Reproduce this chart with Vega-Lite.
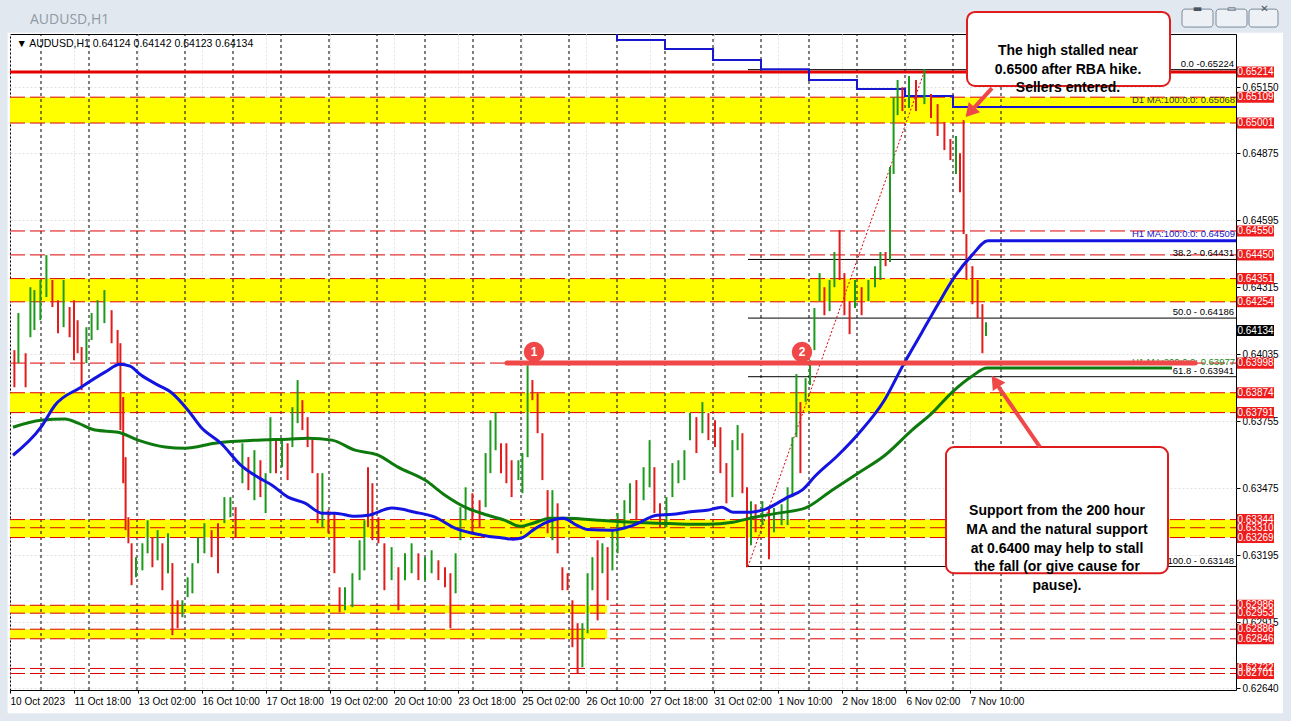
{
"$schema":"https://vega.github.io/schema/vega-lite/v6.json",
"width":1226,"height":656,
"autosize":{"type":"none"},
"padding":{"left":10,"top":34,"right":55,"bottom":31},
"background":"#ffffff",
"config":{"view":{"stroke":"#000000","strokeWidth":1,"fill":"#ffffff"},"axis":{"labelFont":"Liberation Sans","labelFontSize":10,"labelColor":"#000000","tickColor":"#000000"}},
"datasets":{
"candles":[
{"t":2.2,"h":0.64052,"l":0.63897,"dir":"d"},{"t":4.2,"h":0.64207,"l":0.63998,"dir":"u"},{"t":7.8,"h":0.64039,"l":0.63897,"dir":"d"},{"t":10.2,"h":0.64315,"l":0.64106,"dir":"u"},{"t":12.2,"h":0.64303,"l":0.64136,"dir":"u"},{"t":15.2,"h":0.64345,"l":0.64177,"dir":"u"},{"t":18.2,"h":0.64449,"l":0.64274,"dir":"u"},{"t":21.2,"h":0.64345,"l":0.64232,"dir":"d"},{"t":24,"h":0.64261,"l":0.64123,"dir":"d"},{"t":26.8,"h":0.64345,"l":0.64148,"dir":"u"},{"t":29.8,"h":0.64232,"l":0.64106,"dir":"d"},{"t":32,"h":0.64261,"l":0.6401,"dir":"d"},{"t":33.8,"h":0.64177,"l":0.64039,"dir":"d"},{"t":35.8,"h":0.64065,"l":0.63885,"dir":"d"},{"t":38.2,"h":0.64148,"l":0.63998,"dir":"u"},{"t":40.8,"h":0.64207,"l":0.64094,"dir":"u"},{"t":43.8,"h":0.64261,"l":0.64136,"dir":"u"},{"t":47.2,"h":0.64303,"l":0.64165,"dir":"u"},{"t":50.8,"h":0.64219,"l":0.64081,"dir":"d"},{"t":53.8,"h":0.64136,"l":0.63998,"dir":"d"},
{"t":55.2,"h":0.64081,"l":0.63718,"dir":"d"},{"t":56.6,"h":0.63856,"l":0.63496,"dir":"d"},{"t":57.8,"h":0.63605,"l":0.633,"dir":"d"},{"t":59.2,"h":0.63354,"l":0.63245,"dir":"d"},{"t":60.8,"h":0.63245,"l":0.6307,"dir":"d"},{"t":63,"h":0.63187,"l":0.63103,"dir":"u"},{"t":66.2,"h":0.63245,"l":0.63132,"dir":"u"},{"t":68.8,"h":0.63341,"l":0.63203,"dir":"u"},{"t":71.2,"h":0.6327,"l":0.63145,"dir":"d"},{"t":73.8,"h":0.633,"l":0.63174,"dir":"u"},{"t":76.2,"h":0.63245,"l":0.63049,"dir":"d"},{"t":79,"h":0.63287,"l":0.6312,"dir":"u"},{"t":81.2,"h":0.63162,"l":0.62861,"dir":"d"},{"t":83.8,"h":0.63007,"l":0.6289,"dir":"d"},{"t":86.2,"h":0.63007,"l":0.62936,"dir":"u"},{"t":88.8,"h":0.63103,"l":0.6302,"dir":"u"},{"t":91.2,"h":0.63162,"l":0.63036,"dir":"u"},{"t":94,"h":0.6327,"l":0.63162,"dir":"u"},{"t":97.2,"h":0.63329,"l":0.63203,"dir":"u"},{"t":100.8,"h":0.633,"l":0.63187,"dir":"d"},
{"t":104,"h":0.63329,"l":0.6312,"dir":"d"},{"t":107.2,"h":0.63438,"l":0.63329,"dir":"u"},{"t":110.2,"h":0.63438,"l":0.63354,"dir":"u"},{"t":112.8,"h":0.63396,"l":0.6327,"dir":"d"},{"t":116.2,"h":0.63663,"l":0.63496,"dir":"u"},{"t":119.2,"h":0.63605,"l":0.63467,"dir":"d"},{"t":122.2,"h":0.63634,"l":0.63425,"dir":"u"},{"t":125.2,"h":0.63592,"l":0.63438,"dir":"d"},{"t":127.8,"h":0.63538,"l":0.63371,"dir":"u"},{"t":130.2,"h":0.63772,"l":0.63538,"dir":"u"},{"t":133,"h":0.63676,"l":0.63538,"dir":"d"},{"t":136,"h":0.63676,"l":0.63563,"dir":"u"},{"t":138.8,"h":0.63663,"l":0.63509,"dir":"d"},{"t":141.2,"h":0.63814,"l":0.63647,"dir":"u"},{"t":143.8,"h":0.63927,"l":0.63747,"dir":"u"},{"t":146.2,"h":0.63843,"l":0.63718,"dir":"d"},{"t":148.8,"h":0.63772,"l":0.63647,"dir":"d"},{"t":151.2,"h":0.63688,"l":0.63538,"dir":"d"},{"t":153.8,"h":0.63538,"l":0.63329,"dir":"d"},{"t":156.2,"h":0.63538,"l":0.63312,"dir":"u"},
{"t":159.2,"h":0.63383,"l":0.63287,"dir":"d"},{"t":162.2,"h":0.63371,"l":0.6312,"dir":"d"},{"t":164.8,"h":0.63061,"l":0.62957,"dir":"d"},{"t":167.5,"h":0.63061,"l":0.62965,"dir":"u"},{"t":171.2,"h":0.6312,"l":0.62978,"dir":"u"},{"t":174.8,"h":0.63258,"l":0.63091,"dir":"u"},{"t":177.2,"h":0.63341,"l":0.63132,"dir":"u"},{"t":179,"h":0.63563,"l":0.63312,"dir":"d"},{"t":181.2,"h":0.63496,"l":0.63258,"dir":"d"},{"t":184.2,"h":0.63354,"l":0.63245,"dir":"d"},{"t":187.2,"h":0.63245,"l":0.63049,"dir":"d"},{"t":190.8,"h":0.63229,"l":0.63091,"dir":"u"},{"t":194.2,"h":0.63145,"l":0.62965,"dir":"d"},{"t":197.5,"h":0.63203,"l":0.63091,"dir":"u"},{"t":200.8,"h":0.63245,"l":0.6312,"dir":"u"},{"t":204.2,"h":0.63203,"l":0.63091,"dir":"d"},{"t":207.5,"h":0.63187,"l":0.63091,"dir":"u"},{"t":210.8,"h":0.63216,"l":0.6312,"dir":"u"},{"t":214.2,"h":0.63174,"l":0.63091,"dir":"d"},{"t":217.5,"h":0.63145,"l":0.63061,"dir":"d"},
{"t":220.2,"h":0.6312,"l":0.6289,"dir":"d"},{"t":222.8,"h":0.63203,"l":0.63036,"dir":"u"},{"t":225.2,"h":0.63396,"l":0.63258,"dir":"u"},{"t":227.8,"h":0.63479,"l":0.63341,"dir":"u"},{"t":231.2,"h":0.63454,"l":0.63287,"dir":"d"},{"t":234.8,"h":0.63425,"l":0.63312,"dir":"d"},{"t":237.8,"h":0.63622,"l":0.63396,"dir":"u"},{"t":240.2,"h":0.63759,"l":0.63538,"dir":"u"},{"t":242.8,"h":0.63793,"l":0.63634,"dir":"u"},{"t":245.5,"h":0.63663,"l":0.63538,"dir":"d"},{"t":248.2,"h":0.63663,"l":0.63496,"dir":"d"},{"t":250.8,"h":0.63592,"l":0.63438,"dir":"d"},{"t":254.2,"h":0.63592,"l":0.63509,"dir":"u"},{"t":256.2,"h":0.63622,"l":0.63454,"dir":"u"},{"t":258.8,"h":0.63989,"l":0.63605,"dir":"u"},{"t":261.2,"h":0.63927,"l":0.63843,"dir":"d"},{"t":263.8,"h":0.63872,"l":0.63705,"dir":"d"},{"t":266.2,"h":0.63705,"l":0.63509,"dir":"d"},{"t":268.8,"h":0.63467,"l":0.63287,"dir":"d"},{"t":271.2,"h":0.63467,"l":0.63258,"dir":"u"},
{"t":273.8,"h":0.63412,"l":0.63203,"dir":"d"},{"t":276.2,"h":0.63145,"l":0.63049,"dir":"d"},{"t":278.8,"h":0.6312,"l":0.63049,"dir":"d"},{"t":281.2,"h":0.63007,"l":0.62811,"dir":"d"},{"t":283.8,"h":0.62911,"l":0.62702,"dir":"d"},{"t":286.2,"h":0.62911,"l":0.62727,"dir":"u"},{"t":288.8,"h":0.6312,"l":0.62869,"dir":"u"},{"t":291.2,"h":0.63187,"l":0.63049,"dir":"u"},{"t":293.8,"h":0.63258,"l":0.62923,"dir":"d"},{"t":296.2,"h":0.63245,"l":0.6312,"dir":"u"},{"t":298.8,"h":0.63229,"l":0.63007,"dir":"d"},{"t":301.2,"h":0.633,"l":0.63132,"dir":"u"},{"t":303.8,"h":0.63371,"l":0.63203,"dir":"u"},{"t":307.2,"h":0.63425,"l":0.63312,"dir":"u"},{"t":310,"h":0.63496,"l":0.63371,"dir":"u"},{"t":313.2,"h":0.63509,"l":0.63341,"dir":"d"},{"t":316.8,"h":0.63563,"l":0.63425,"dir":"u"},{"t":319.8,"h":0.63676,"l":0.63479,"dir":"u"},{"t":322.2,"h":0.63563,"l":0.63371,"dir":"d"},{"t":325,"h":0.63412,"l":0.63312,"dir":"d"},
{"t":328.2,"h":0.63438,"l":0.63312,"dir":"u"},{"t":331.2,"h":0.6358,"l":0.63438,"dir":"u"},{"t":334.2,"h":0.63592,"l":0.63496,"dir":"u"},{"t":337.2,"h":0.63634,"l":0.63509,"dir":"u"},{"t":340,"h":0.63789,"l":0.63676,"dir":"u"},{"t":343.2,"h":0.63772,"l":0.63622,"dir":"d"},{"t":346.2,"h":0.63835,"l":0.63705,"dir":"u"},{"t":349.2,"h":0.63789,"l":0.63676,"dir":"d"},{"t":352.5,"h":0.63759,"l":0.63647,"dir":"d"},{"t":355.2,"h":0.6373,"l":0.63538,"dir":"d"},{"t":358.2,"h":0.6358,"l":0.63412,"dir":"d"},{"t":361.2,"h":0.63676,"l":0.63438,"dir":"u"},{"t":363.8,"h":0.63739,"l":0.63634,"dir":"u"},{"t":366.2,"h":0.63705,"l":0.63454,"dir":"d"},{"t":368.5,"h":0.63479,"l":0.63145,"dir":"d"},{"t":370.5,"h":0.63421,"l":0.63237,"dir":"u"},{"t":372.8,"h":0.63408,"l":0.63291,"dir":"d"},{"t":376.2,"h":0.63421,"l":0.63321,"dir":"u"},{"t":379.5,"h":0.63392,"l":0.63178,"dir":"d"},{"t":382,"h":0.63392,"l":0.63291,"dir":"u"},
{"t":385.8,"h":0.63408,"l":0.63321,"dir":"u"},{"t":388.8,"h":0.63479,"l":0.63321,"dir":"u"},{"t":391.2,"h":0.63688,"l":0.63438,"dir":"u"},{"t":393.2,"h":0.63952,"l":0.63688,"dir":"u"},{"t":395.2,"h":0.63835,"l":0.63538,"dir":"d"},{"t":397.8,"h":0.63935,"l":0.63835,"dir":"u"},{"t":400,"h":0.6401,"l":0.63906,"dir":"u"},{"t":402.2,"h":0.64228,"l":0.64052,"dir":"u"},{"t":404.8,"h":0.64374,"l":0.64257,"dir":"u"},{"t":407.2,"h":0.64315,"l":0.64198,"dir":"d"},{"t":409.8,"h":0.64345,"l":0.64215,"dir":"u"},{"t":412.2,"h":0.64462,"l":0.64315,"dir":"u"},{"t":414.8,"h":0.64554,"l":0.64345,"dir":"d"},{"t":417.2,"h":0.64374,"l":0.64198,"dir":"d"},{"t":419.8,"h":0.64257,"l":0.64119,"dir":"d"},{"t":422.5,"h":0.64345,"l":0.64228,"dir":"u"},{"t":425.8,"h":0.64315,"l":0.64198,"dir":"d"},{"t":429.2,"h":0.64345,"l":0.64257,"dir":"u"},{"t":432.5,"h":0.64403,"l":0.64315,"dir":"u"},{"t":435.2,"h":0.64462,"l":0.64345,"dir":"u"},
{"t":437.8,"h":0.64462,"l":0.64403,"dir":"d"},{"t":440,"h":0.64817,"l":0.6442,"dir":"u"},{"t":441.8,"h":0.6511,"l":0.64788,"dir":"u"},{"t":443.8,"h":0.65181,"l":0.65034,"dir":"u"},{"t":446.2,"h":0.65151,"l":0.65051,"dir":"d"},{"t":449.5,"h":0.65197,"l":0.65064,"dir":"u"},{"t":453,"h":0.65181,"l":0.65051,"dir":"d"},{"t":457.2,"h":0.65227,"l":0.6508,"dir":"u"},{"t":460.5,"h":0.65122,"l":0.65022,"dir":"d"},{"t":463.8,"h":0.6508,"l":0.64947,"dir":"d"},{"t":467.2,"h":0.65005,"l":0.64888,"dir":"d"},{"t":470.2,"h":0.64934,"l":0.64846,"dir":"d"},{"t":473,"h":0.64947,"l":0.64788,"dir":"u"},{"t":475,"h":0.64875,"l":0.64712,"dir":"d"},{"t":476.8,"h":0.65013,"l":0.64537,"dir":"d"},{"t":478.2,"h":0.64537,"l":0.64345,"dir":"d"},{"t":481.2,"h":0.64403,"l":0.64244,"dir":"d"},{"t":483.8,"h":0.64345,"l":0.64186,"dir":"d"},{"t":486.2,"h":0.64244,"l":0.64039,"dir":"d"},{"t":488,"h":0.64169,"l":0.64111,"dir":"u"}
],
"ma100":[
{"t":1.5,"p":0.63613},{"t":15.5,"p":0.6373},{"t":22.5,"p":0.63822},{"t":35.5,"p":0.63897},{"t":47.5,"p":0.6396},{"t":55,"p":0.63993},{"t":60,"p":0.63985},{"t":65.5,"p":0.63948},{"t":74,"p":0.63906},{"t":80.5,"p":0.63876},{"t":89,"p":0.63801},{"t":95.5,"p":0.6373},{"t":105.5,"p":0.63663},{"t":115.5,"p":0.63571},{"t":124,"p":0.63521},{"t":131,"p":0.63488},{"t":139,"p":0.63438},{"t":147.5,"p":0.63413},{"t":156,"p":0.63371},{"t":162.5,"p":0.63371},{"t":172.5,"p":0.63358},{"t":179,"p":0.63362},{"t":191,"p":0.63392},{"t":202.5,"p":0.63375},{"t":212.5,"p":0.63354},{"t":222.5,"p":0.63308},{"t":236,"p":0.63279},{"t":247.5,"p":0.63266},{"t":251.5,"p":0.63262},{"t":256.5,"p":0.6327},{"t":261.5,"p":0.633},{"t":268.5,"p":0.63333},{"t":276.5,"p":0.6335},{"t":283.5,"p":0.6332},{"t":288.5,"p":0.63303},{"t":301.5,"p":0.633},{"t":311.5,"p":0.6332},{"t":323.5,"p":0.63362},{"t":331.5,"p":0.63366},{"t":338.5,"p":0.63375},{"t":348.5,"p":0.63383},{"t":356,"p":0.63396},{"t":361.5,"p":0.63375},{"t":370,"p":0.63375},{"t":377.5,"p":0.63387},{"t":389,"p":0.63438},{"t":396,"p":0.63467},{"t":402.5,"p":0.63525},{"t":414,"p":0.63613},{"t":424,"p":0.63701},{"t":437.5,"p":0.63847},{"t":446,"p":0.63981},{"t":456,"p":0.64127},{"t":464,"p":0.64244},{"t":472.5,"p":0.64361},{"t":481,"p":0.64449},{"t":489,"p":0.64509},{"t":613,"p":0.64509}
],
"ma200":[
{"t":1.5,"p":0.6373},{"t":15.5,"p":0.63759},{"t":27.5,"p":0.63764},{"t":34,"p":0.63747},{"t":42.5,"p":0.63718},{"t":54,"p":0.63709},{"t":64,"p":0.63676},{"t":77.5,"p":0.63647},{"t":87.5,"p":0.63642},{"t":102.5,"p":0.63663},{"t":124,"p":0.63676},{"t":139,"p":0.6368},{"t":149,"p":0.63684},{"t":161,"p":0.63676},{"t":172.5,"p":0.63634},{"t":184,"p":0.63613},{"t":194,"p":0.63563},{"t":207.5,"p":0.63509},{"t":217.5,"p":0.63446},{"t":227.5,"p":0.63396},{"t":239,"p":0.63362},{"t":247.5,"p":0.63341},{"t":255,"p":0.63316},{"t":261.5,"p":0.63329},{"t":270,"p":0.6335},{"t":278.5,"p":0.6335},{"t":295,"p":0.63341},{"t":311.5,"p":0.63333},{"t":325,"p":0.63329},{"t":338.5,"p":0.63325},{"t":348.5,"p":0.63325},{"t":361.5,"p":0.63333},{"t":370,"p":0.6335},{"t":384,"p":0.63371},{"t":397.5,"p":0.63392},{"t":411,"p":0.63467},{"t":424,"p":0.63538},{"t":437.5,"p":0.63613},{"t":451,"p":0.63718},{"t":461,"p":0.63789},{"t":471,"p":0.63876},{"t":481,"p":0.63943},{"t":488.5,"p":0.63977},{"t":581,"p":0.63977}
],
"d1ma":[
{"t":303.45,"p":0.654},{"t":303.5,"p":0.65348},{"t":327.5,"p":0.6531},{"t":351.5,"p":0.65264},{"t":375.5,"p":0.65226},{"t":399.5,"p":0.65181},{"t":423.5,"p":0.65143},{"t":447.5,"p":0.65114},{"t":471.5,"p":0.65068},{"t":613,"p":0.65068}
],
"zones":[
{"t":0,"t2":613,"p":0.65109,"p2":0.65001},{"t":0,"t2":613,"p":0.64351,"p2":0.64254},{"t":0,"t2":613,"p":0.63874,"p2":0.63791},{"t":0,"t2":613,"p":0.63344,"p2":0.63269},{"t":0,"t2":298.5,"p":0.62986,"p2":0.62953},{"t":0,"t2":298.5,"p":0.62886,"p2":0.62846}
],
"dash":[
{"t":0,"t2":613,"p":0.65109},{"t":0,"t2":613,"p":0.65001},{"t":0,"t2":613,"p":0.6455},{"t":0,"t2":613,"p":0.6445},{"t":0,"t2":613,"p":0.64351},{"t":0,"t2":613,"p":0.64254},{"t":0,"t2":613,"p":0.63998},{"t":0,"t2":613,"p":0.63874},{"t":0,"t2":613,"p":0.63791},{"t":0,"t2":613,"p":0.63344},{"t":0,"t2":613,"p":0.6331},{"t":0,"t2":613,"p":0.63269},{"t":0,"t2":613,"p":0.62986},{"t":0,"t2":613,"p":0.62953},{"t":0,"t2":613,"p":0.62886},{"t":0,"t2":613,"p":0.62846},{"t":0,"t2":613,"p":0.62722},{"t":0,"t2":613,"p":0.62701}
],
"seps":[
{"t":15.5,"p":0.62632,"p2":0.65373},{"t":39.5,"p":0.62632,"p2":0.65373},{"t":63.5,"p":0.62632,"p2":0.65373},{"t":87.5,"p":0.62632,"p2":0.65373},{"t":111.5,"p":0.62632,"p2":0.65373},{"t":135.5,"p":0.62632,"p2":0.65373},{"t":159.5,"p":0.62632,"p2":0.65373},{"t":183.5,"p":0.62632,"p2":0.65373},{"t":207.5,"p":0.62632,"p2":0.65373},{"t":231.5,"p":0.62632,"p2":0.65373},{"t":255.5,"p":0.62632,"p2":0.65373},{"t":279.5,"p":0.62632,"p2":0.65373},{"t":303.5,"p":0.62632,"p2":0.65373},{"t":327.5,"p":0.62632,"p2":0.65373},{"t":351.5,"p":0.62632,"p2":0.65373},{"t":375.5,"p":0.62632,"p2":0.65373},{"t":399.5,"p":0.62632,"p2":0.65373},{"t":423.5,"p":0.62632,"p2":0.65373},{"t":447.5,"p":0.62632,"p2":0.65373},{"t":471.5,"p":0.62632,"p2":0.65373},{"t":495.5,"p":0.62632,"p2":0.65373}
],
"fib":[
{"t":369,"t2":613,"p":0.65224,"label":"0.0 -0.65224"},{"t":369,"t2":613,"p":0.64431,"label":"38.2 - 0.64431"},{"t":369,"t2":613,"p":0.64186,"label":"50.0 - 0.64186"},{"t":369,"t2":613,"p":0.63941,"label":"61.8 - 0.63941"},{"t":369,"t2":613,"p":0.63148,"label":"100.0 - 0.63148"}
],
"frame":[
{"t":-10,"t2":650,"p":0.6553,"p2":0.65378},{"t":636.5,"t2":650,"p":0.6553,"p2":0.62485},{"t":-10,"t2":650,"p":0.62535,"p2":0.62485},{"t":-10,"t2":-1.2,"p":0.6553,"p2":0.62485}
],
"buttons":[
{"t":586,"t2":601.5,"p":0.65477,"p2":0.65402,"g":"▬"},{"t":603,"t2":618.5,"p":0.65477,"p2":0.65402,"g":"▭"},{"t":619.5,"t2":634,"p":0.65477,"p2":0.65402,"g":"✕"}
],
"pbox":[
{"p":0.65214,"k":"lvl"},{"p":0.65109,"k":"lvl"},{"p":0.65001,"k":"lvl"},{"p":0.6455,"k":"lvl"},{"p":0.6445,"k":"lvl"},{"p":0.64351,"k":"lvl"},{"p":0.64254,"k":"lvl"},{"p":0.64134,"k":"cur"},{"p":0.63998,"k":"lvl"},{"p":0.63874,"k":"lvl"},{"p":0.63791,"k":"lvl"},{"p":0.63344,"k":"lvl"},{"p":0.6331,"k":"lvl"},{"p":0.63269,"k":"lvl"},{"p":0.62986,"k":"lvl"},{"p":0.62953,"k":"lvl"},{"p":0.62886,"k":"lvl"},{"p":0.62846,"k":"lvl"},{"p":0.62722,"k":"lvl"},{"p":0.62701,"k":"lvl"}
]
},
"layer":[
{
"encoding":{
  "x":{"field":"t","type":"quantitative","title":null,"scale":{"domain":[0,613],"zero":false,"nice":false},
   "axis":{"title":null,"values":[0,32,64,96,128,160,192,224,256,288,320,352,384,416,448,480],
    "labelExpr":"['10 Oct 2023','11 Oct 18:00','13 Oct 02:00','16 Oct 10:00','17 Oct 18:00','19 Oct 02:00','20 Oct 10:00','23 Oct 18:00','25 Oct 02:00','26 Oct 10:00','27 Oct 18:00','31 Oct 02:00','1 Nov 10:00','2 Nov 18:00','6 Nov 02:00','7 Nov 10:00'][round(datum.value/32)]",
    "labelAlign":"left","labelOverlap":false,"labelFlush":false,"tickSize":3,"labelPadding":3,"domain":false,"grid":true,"gridColor":"#e2e2e2","gridDash":[2,2]}},
  "y":{"field":"p","type":"quantitative","title":null,"scale":{"domain":[0.62632,0.65373],"zero":false,"nice":false},
   "axis":{"title":null,"orient":"right","values":[0.65285,0.6515,0.6501,0.64875,0.64735,0.64595,0.64455,0.64315,0.64175,0.64035,0.63895,0.63755,0.63615,0.63475,0.63335,0.63195,0.63055,0.62915,0.6278,0.6264],
    "format":".5f","tickSize":4,"labelPadding":2,"labelOverlap":false,"labelFlush":false,"domain":false,"grid":true,"gridColor":"#e2e2e2","gridDash":[2,2]}}
},
"layer":[
{"data":{"name":"frame"},"mark":{"type":"rect","color":"#e1e8f0"},
 "encoding":{"x2":{"field":"t2"},"y2":{"field":"p2"}}},
{"data":{"values":[{"t":10,"p":0.65431,"txt":"AUDUSD,H1"}]},"mark":{"type":"text","align":"left","baseline":"middle","font":"Open Sans","fontSize":14,"color":"#9099a4"},
 "encoding":{"text":{"field":"txt"}}},
{"data":{"name":"buttons"},"mark":{"type":"rect","fill":"#edf1f6","stroke":"#7d8a99","strokeWidth":1,"cornerRadius":3},
 "encoding":{"x2":{"field":"t2"},"y2":{"field":"p2"}}},
{"data":{"name":"buttons"},"mark":{"type":"text","align":"center","baseline":"middle","font":"DejaVu Sans","fontSize":10,"color":"#4a5562","dx":15.5,"dy":0},
 "encoding":{"y":{"field":"p","type":"quantitative"},"text":{"field":"g"}}},
{"data":{"name":"zones"},"mark":{"type":"rect","color":"#ffff00"},
 "encoding":{"x2":{"field":"t2"},"y2":{"field":"p2"}}},
{"data":{"name":"seps"},"mark":{"type":"rule","color":"#000000","strokeDash":[3,3],"strokeWidth":1},
 "encoding":{"y2":{"field":"p2"}}},
{"data":{"name":"dash"},"mark":{"type":"rule","color":"#dd0000","strokeDash":[15,5],"strokeWidth":1},
 "encoding":{"x2":{"field":"t2"}}},
{"data":{"values":[{"t":0,"t2":613,"p":0.65214}]},"mark":{"type":"rule","color":"#e60000","strokeWidth":3},
 "encoding":{"x2":{"field":"t2"}}},
{"data":{"name":"fib"},"mark":{"type":"rule","color":"#000000","strokeWidth":1},
 "encoding":{"x2":{"field":"t2"}}},
{"data":{"values":[{"t":369,"p":0.63148},{"t":457.5,"p":0.65224}]},"mark":{"type":"line","color":"#e00000","strokeDash":[2,2],"strokeWidth":1}},
{"data":{"name":"d1ma"},"mark":{"type":"line","color":"#1818d0","strokeWidth":2,"interpolate":"step-after","clip":true}},
{"data":{"name":"candles"},"mark":{"type":"rule","strokeWidth":2},
 "encoding":{
  "y":{"field":"h","type":"quantitative"},
  "y2":{"field":"l"},
  "color":{"field":"dir","type":"nominal","scale":{"domain":["u","d"],"range":["#1c9a1c","#e31b1b"]},"legend":null}}},
{"data":{"name":"ma200"},"mark":{"type":"line","color":"#0e7a0e","strokeWidth":3,"interpolate":"monotone"}},
{"data":{"name":"ma100"},"mark":{"type":"line","color":"#1414e0","strokeWidth":3,"interpolate":"monotone"}},
{"data":{"values":[{"t":612.5,"p":0.65072,"txt":"D1 MA:100:0:0: 0.65068"}]},"mark":{"type":"text","align":"right","baseline":"bottom","font":"Liberation Sans","fontSize":9.5,"color":"#303030","dy":-1},
 "encoding":{"text":{"field":"txt"}}},
{"data":{"values":[{"t":612.5,"p":0.64509,"txt":"H1 MA:100:0:0: 0.64509"}]},"mark":{"type":"text","align":"right","baseline":"bottom","font":"Liberation Sans","fontSize":9.5,"color":"#1414c8","dy":-2},
 "encoding":{"text":{"field":"txt"}}},
{"data":{"values":[{"t":612.5,"p":0.63977,"txt":"H1 MA:200:0:0: 0.63977"}]},"mark":{"type":"text","align":"right","baseline":"bottom","font":"Liberation Sans","fontSize":9.5,"color":"#1a8a1a","dy":-1},
 "encoding":{"text":{"field":"txt"}}},
{"data":{"name":"fib"},"mark":{"type":"text","align":"right","baseline":"bottom","font":"Liberation Sans","fontSize":9.5,"color":"#000000","dx":-2,"dy":-1},
 "encoding":{"x":{"field":"t2","type":"quantitative"},"text":{"field":"label"}}},
{"data":{"values":[{"t":248.5,"t2":592.5,"p":0.63998}]},"mark":{"type":"rule","color":"#f04848","strokeWidth":5,"strokeCap":"round"},
 "encoding":{"x2":{"field":"t2"}}},
{"data":{"values":[{"t":262,"p":0.64044,"n":"1"},{"t":396,"p":0.64044,"n":"2"}]},"mark":{"type":"point","filled":true,"color":"#f04848","size":420,"opacity":1}},
{"data":{"values":[{"t":262,"p":0.64044,"n":"1"},{"t":396,"p":0.64044,"n":"2"}]},"mark":{"type":"text","color":"#ffffff","font":"Liberation Sans","fontSize":12,"fontWeight":"bold","align":"center","baseline":"middle"},
 "encoding":{"text":{"field":"n"}}},
{"data":{"values":[{"t":3.2,"p":0.65331,"txt":"▼  AUDUSD,H1  0.64124 0.64142 0.64123 0.64134"}]},"mark":{"type":"text","align":"left","baseline":"middle","font":"Liberation Sans","fontSize":10.5,"color":"#000000"},
 "encoding":{"text":{"field":"txt"}}},
{"data":{"values":[{"t":478.5,"t2":580,"p":0.65465,"p2":0.65156},{"t":468,"t2":579,"p":0.63647,"p2":0.6312}]},"mark":{"type":"rect","fill":"#ffffff","stroke":"#e01b1b","strokeWidth":2,"cornerRadius":8},
 "encoding":{"x2":{"field":"t2"},"y2":{"field":"p2"}}},
{"data":{"values":[{"t":529,"p":0.65302,"txt":"The high stalled near\n0.6500 after RBA hike.\nSellers entered."},{"t":523.5,"p":0.63379,"txt":"Support from the 200 hour\nMA and the natural support\nat 0.6400 may help to stall\nthe fall (or give cause for\npause)."}]},
 "mark":{"type":"text","align":"center","baseline":"middle","lineBreak":"\n","lineHeight":18.7,"font":"Liberation Sans","fontSize":14,"fontWeight":"bold","color":"#000000"},
 "encoding":{"text":{"field":"txt"}}},
{"data":{"values":[{"a":"1","t":491,"p":0.65147},{"a":"1","t":481,"p":0.65055},{"a":"2","t":515,"p":0.63647},{"a":"2","t":494,"p":0.63902}]},"mark":{"type":"line","color":"#f04848","strokeWidth":4},
 "encoding":{"detail":{"field":"a"}}},
{"data":{"values":[{"t":480,"p":0.65047}]},"mark":{"type":"point","shape":"triangle-up","filled":true,"color":"#f04848","opacity":1,"size":230,"angle":222}},
{"data":{"values":[{"t":492.7,"p":0.63922}]},"mark":{"type":"point","shape":"triangle-up","filled":true,"color":"#f04848","opacity":1,"size":230,"angle":326}}
]
},
{"data":{"name":"pbox"},"mark":{"type":"point","shape":"M-1,-0.3H1V0.3H-1Z","filled":true,"opacity":1,"size":1369,"strokeWidth":0},
 "encoding":{"x":{"datum":622.75,"type":"quantitative","title":null},"y":{"field":"p","type":"quantitative","title":null},
  "fill":{"field":"k","type":"nominal","scale":{"domain":["lvl","cur"],"range":["#ee1c1c","#000000"]},"legend":null}}},
{"data":{"name":"pbox"},"mark":{"type":"text","align":"center","baseline":"middle","font":"Liberation Sans","fontSize":10,"color":"#ffffff"},
 "encoding":{"x":{"datum":622.75,"type":"quantitative","title":null},"y":{"field":"p","type":"quantitative","title":null},"text":{"field":"p","type":"quantitative","format":".5f"}}}
]
}
